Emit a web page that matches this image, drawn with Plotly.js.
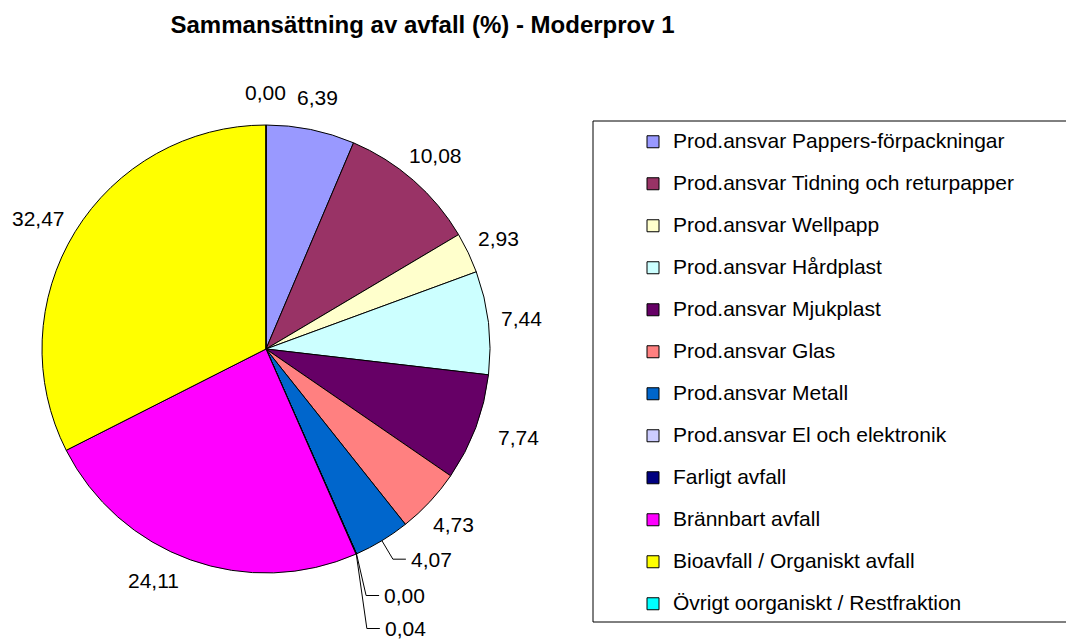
<!DOCTYPE html>
<html><head><meta charset="utf-8">
<script src="https://cdn.plot.ly/plotly-3.0.1.min.js"></script>
<style>html,body{margin:0;padding:0;background:#fff}#chart{width:1066px;height:643px}</style>
</head><body><div id="chart"></div>
<script>
// ---- data ----
const categories = [
  "Prod.ansvar Pappers-förpackningar",
  "Prod.ansvar Tidning och returpapper",
  "Prod.ansvar Wellpapp",
  "Prod.ansvar Hårdplast",
  "Prod.ansvar Mjukplast",
  "Prod.ansvar Glas",
  "Prod.ansvar Metall",
  "Prod.ansvar El och elektronik",
  "Farligt avfall",
  "Brännbart avfall",
  "Bioavfall / Organiskt avfall",
  "Övrigt oorganiskt / Restfraktion"
];
const values = [6.39, 10.08, 2.93, 7.44, 7.74, 4.73, 4.07, 0.00, 0.04, 24.11, 32.47, 0.00];
const colors = ["#9999FF", "#993366", "#FFFFCC", "#CCFFFF", "#660066", "#FF8080",
                "#0066CC", "#CCCCFF", "#000080", "#FF00FF", "#FFFF00", "#00FFFF"];
const titleText = "Sammansättning av avfall (%) - Moderprov 1";

// ---- layout geometry ----
const W = 1066, H = 643;
const CX = 266, CY = 349, R = 224;
const FONT = "Liberation Sans, Arial, sans-serif";
const LABEL_SIZE = 21;
const LEGEND_TEXT = 21;

// label placement: leader-line labels (offset of label's left/middle from slice edge, px)
const leader = {6: [27, 18.5], 7: [25.6, 41.6], 8: [26.6, 74.5]};
// small nudges for free labels (px)
const nudge = {4: [12, -2], 9: [-26, -10], 10: [-8, 4]};

const fmt = v => v.toFixed(2).replace('.', ',');
const legendLabels = categories.map(c =>
  '<span style="font-size:' + LEGEND_TEXT + 'px">' + c + '</span><br>\u00a0');

const px = x => x / W, py = y => 1 - y / H;
const total = values.reduce((a, b) => a + b, 0);
const annotations = [];
const leaderShapes = [];
let cum = 0;
values.forEach((v, i) => {
  const mid = (cum + v / 2) / total * 2 * Math.PI;
  cum += v;
  const s = Math.sin(mid), c = Math.cos(mid);
  const font = {family: FONT, size: LABEL_SIZE, color: '#000'};
  if (leader[i]) {
    const ex = CX + R * s, ey = CY - R * c;
    const lx = ex + leader[i][0], ly = ey + leader[i][1];
    annotations.push({
      x: px(lx), y: py(ly), xref: 'paper', yref: 'paper',
      xanchor: 'left', yanchor: 'middle', text: fmt(v), showarrow: false, font: font
    });
    leaderShapes.push({
      type: 'path', xref: 'paper', yref: 'paper',
      path: 'M' + px(ex) + ',' + py(ey) + ' L' + px(lx - 16) + ',' + py(ly) + ' L' + px(lx - 3) + ',' + py(ly),
      line: {color: '#000', width: 1}
    });
  } else {
    const d = R + 33;
    const nd = nudge[i] || [0, 0];
    const lx = CX + d * s + nd[0], ly = CY - d * c + nd[1];
    annotations.push({
      x: px(lx), y: py(ly), xref: 'paper', yref: 'paper',
      xanchor: 'center', yanchor: 'middle', text: fmt(v), showarrow: false, font: font
    });
  }
});

const trace = {
  type: 'pie',
  labels: legendLabels,
  values: values,
  sort: false,
  direction: 'clockwise',
  rotation: 0,
  textinfo: 'none',
  hoverinfo: 'none',
  marker: {colors: colors, line: {color: '#000', width: 1}},
  domain: {x: [(CX - R) / W, (CX + R) / W], y: [(H - CY - R) / H, (H - CY + R) / H]}
};

// legend frame (extends past the right edge, as in the reference)
const FRAME = {l: 593, t: 121, r: 1075, b: 622};
const LEG_TOP = 125.5;

const layout = {
  width: W, height: H,
  margin: {l: 0, r: 0, t: 0, b: 0, autoexpand: false},
  paper_bgcolor: '#fff',
  font: {family: FONT, color: '#000'},
  title: {
    text: '<b>' + titleText + '</b>',
    x: 170.5 / W, xanchor: 'left', xref: 'paper',
    y: 1 - 24.5 / H, yanchor: 'middle', yref: 'container',
    font: {family: FONT, size: 24, color: '#000'}
  },
  showlegend: true,
  legend: {
    x: 593 / W, xanchor: 'left', y: 1 - LEG_TOP / H, yanchor: 'top',
    borderwidth: 0, bgcolor: 'rgba(0,0,0,0)',
    font: {family: FONT, size: 15, color: '#000'},
    valign: 'top',
    indentation: 40,
    traceorder: 'normal'
  },
  shapes: [{
    type: 'rect', xref: 'paper', yref: 'paper', layer: 'below',
    x0: px(FRAME.l), x1: px(FRAME.r), y0: py(FRAME.b), y1: py(FRAME.t),
    line: {color: '#000', width: 1}, fillcolor: '#fff'
  }].concat(leaderShapes),
  annotations: annotations
};

Plotly.newPlot('chart', [trace], layout, {staticPlot: true, displayModeBar: false});
</script>
</body></html>
